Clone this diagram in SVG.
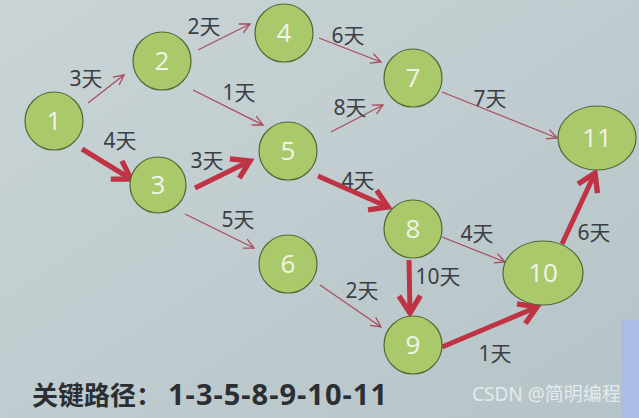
<svg xmlns="http://www.w3.org/2000/svg" width="639" height="418" viewBox="0 0 639 418">
<defs>
<linearGradient id="bg" x1="0" y1="0" x2="1" y2="1">
<stop offset="0" stop-color="#cad4d6"/>
<stop offset="0.5" stop-color="#c0cccf"/>
<stop offset="1" stop-color="#b5c4c8"/>
</linearGradient>
<marker id="thin" markerUnits="userSpaceOnUse" markerWidth="14" markerHeight="14" refX="10" refY="5" orient="auto" viewBox="-2 -2 14 14">
<path d="M0,0 L10,5 L0,10" fill="none" stroke="#a94a5c" stroke-width="1.3"/>
</marker>
<marker id="thick" markerUnits="userSpaceOnUse" markerWidth="30" markerHeight="30" refX="16" refY="10" orient="auto" viewBox="-4 -4 26 28">
<path d="M0,0 L16,10 L0,20" fill="none" stroke="#bf3344" stroke-width="5" stroke-linejoin="miter"/>
</marker>
<style>
.node ellipse{fill:#a9c96b;stroke:#4d6b35;stroke-width:1.2}
.node text{fill:#f1f4e6;font-family:"Open Sans","Noto Sans",sans-serif;font-size:26px;text-anchor:middle}
.thin{stroke:#a94a5c;stroke-width:1.2;fill:none;marker-end:url(#thin)}
.thick{stroke:#bf3344;stroke-width:5;fill:none;marker-end:url(#thick)}
.lbl{fill:#3a3f45;font-family:"Noto Sans","Noto Sans CJK SC",sans-serif;font-size:21px;text-anchor:middle}
.title{fill:#2b2f34;font-family:"Noto Sans CJK SC","Noto Sans",sans-serif;font-size:26px;font-weight:bold}
.title tspan{font-family:"Noto Sans","Noto Sans CJK SC",sans-serif;font-size:29px;letter-spacing:1px}
.wm{fill:#eef1f2;font-family:"Noto Sans","Noto Sans CJK SC",sans-serif;font-size:19px;opacity:0.85}
</style>
</defs>
<rect width="639" height="418" fill="url(#bg)"/>
<rect x="621" y="320" width="18" height="98" fill="#a9bde6"/>
<g id="connectors">
<line class="thin" x1="88" y1="103" x2="124" y2="75"/>
<line class="thin" x1="198" y1="50" x2="250" y2="24"/>
<line class="thin" x1="193" y1="90" x2="263" y2="125"/>
<line class="thin" x1="319" y1="38" x2="381" y2="62"/>
<line class="thin" x1="331" y1="132" x2="383" y2="105"/>
<line class="thin" x1="442" y1="92" x2="557" y2="138"/>
<line class="thin" x1="185" y1="214" x2="254" y2="248"/>
<line class="thin" x1="320" y1="285" x2="381" y2="327"/>
<line class="thin" x1="442" y1="237" x2="505" y2="262"/>
<line class="thick" x1="82" y1="149" x2="131" y2="179"/>
<line class="thick" x1="195" y1="188" x2="250" y2="161"/>
<line class="thick" x1="318" y1="176" x2="388" y2="207"/>
<line class="thick" x1="409" y1="260" x2="410" y2="313"/>
<line class="thick" x1="442" y1="347" x2="537" y2="307"/>
<line class="thick" x1="562" y1="244" x2="595" y2="173"/>
<text class="lbl" x="86" y="86">3天</text>
<text class="lbl" x="120" y="148">4天</text>
<text class="lbl" x="204" y="34">2天</text>
<text class="lbl" x="239" y="100">1天</text>
<text class="lbl" x="207" y="168">3天</text>
<text class="lbl" x="348" y="43">6天</text>
<text class="lbl" x="350" y="115">8天</text>
<text class="lbl" x="490" y="106">7天</text>
<text class="lbl" x="238" y="227">5天</text>
<text class="lbl" x="358" y="188">4天</text>
<text class="lbl" x="362" y="298">2天</text>
<text class="lbl" x="438" y="284">10天</text>
<text class="lbl" x="477" y="241">4天</text>
<text class="lbl" x="495" y="361">1天</text>
<text class="lbl" x="594" y="240">6天</text>
</g>
<g id="n1" class="node"><ellipse cx="54" cy="121" rx="29" ry="29"/><text x="54" y="130">1</text></g>
<g id="n2" class="node"><ellipse cx="162" cy="61" rx="29" ry="29"/><text x="162" y="70">2</text></g>
<g id="n3" class="node"><ellipse cx="158" cy="185" rx="28" ry="28"/><text x="158" y="194">3</text></g>
<g id="n4" class="node"><ellipse cx="284" cy="33" rx="29" ry="29"/><text x="284" y="42">4</text></g>
<g id="n5" class="node"><ellipse cx="288" cy="151" rx="29" ry="29"/><text x="288" y="160">5</text></g>
<g id="n6" class="node"><ellipse cx="288" cy="264" rx="29" ry="29"/><text x="288" y="273">6</text></g>
<g id="n7" class="node"><ellipse cx="413" cy="78" rx="29" ry="29"/><text x="413" y="87">7</text></g>
<g id="n8" class="node"><ellipse cx="413" cy="229" rx="29" ry="29"/><text x="413" y="238">8</text></g>
<g id="n9" class="node"><ellipse cx="413" cy="345" rx="29" ry="29"/><text x="413" y="354">9</text></g>
<g id="n10" class="node"><ellipse cx="543" cy="273" rx="40" ry="32"/><text x="543" y="282">10</text></g>
<g id="n11" class="node"><ellipse cx="597" cy="138" rx="39" ry="32"/><text x="597" y="147">11</text></g>
<text class="title" x="32" y="405">关键路径：<tspan dx="6">1-3-5-8-9-10-11</tspan></text>
<text class="wm" x="472" y="401">CSDN @简明编程</text>
</svg>
